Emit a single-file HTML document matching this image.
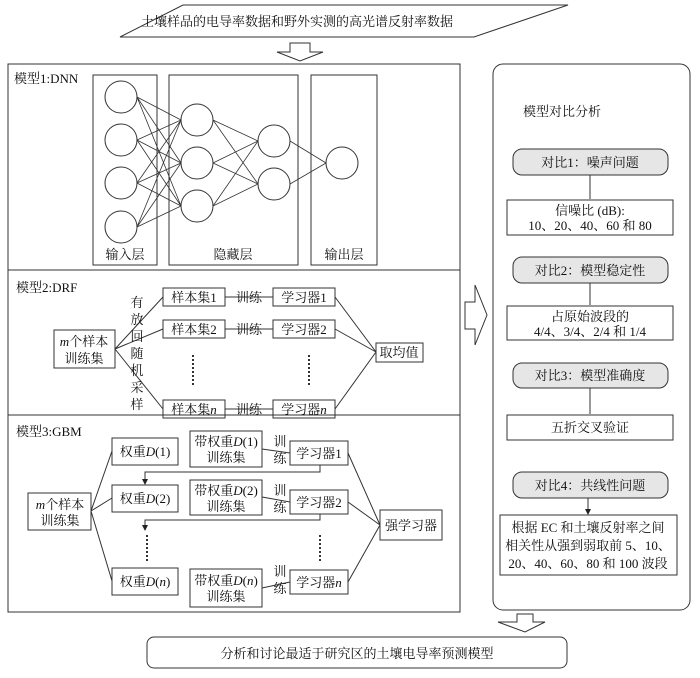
<!DOCTYPE html>
<html><head><meta charset="utf-8"><style>
html,body{margin:0;padding:0;background:#fff}
svg text{font-family:"Liberation Serif","Noto Serif CJK SC",serif;font-size:13px;fill:#111}
</style></head><body>
<svg width="700" height="673" viewBox="0 0 700 673" xmlns="http://www.w3.org/2000/svg">
<defs><marker id="ah" markerWidth="6" markerHeight="6" refX="5" refY="3" orient="auto"><path d="M0,0 L6,3 L0,6 z" fill="#222"/></marker></defs>
<g fill="none" stroke="#333" stroke-width="1">
<!-- top parallelogram -->
<polygon points="183,5 568,5 474,37 120,37" fill="#fff"/>
<!-- down arrow top -->
<polygon points="290,43 310,43 310,52 323,52 300,61 277,52 290,52"/>
<!-- main left box -->
<rect x="8" y="64" width="452" height="548"/>
<line x1="8" y1="270" x2="460" y2="270"/>
<line x1="8" y1="415" x2="460" y2="415"/>
<!-- right arrow -->
<polygon points="465,302 475,302 475,285 487,315 475,345 475,329 465,329"/>
<!-- right rounded box -->
<rect x="493" y="64" width="197" height="546" rx="10"/>
<!-- bottom arrow -->
<polygon points="517,614 533,614 533,622 545,622 525,632 498,622 517,622"/>
<rect x="147" y="637" width="420" height="31" rx="7"/>

<!-- DNN -->
<rect x="93" y="75" width="64" height="190"/>
<rect x="169" y="75" width="129" height="190"/>
<rect x="311" y="75" width="66" height="190"/>
<g stroke-width="0.8">
<path d="M137,97 L181,120 M137,97 L181,163 M137,97 L181,206 M137,140 L181,120 M137,140 L181,163 M137,140 L181,206 M137,183 L181,120 M137,183 L181,163 M137,183 L181,206 M137,227 L181,120 M137,227 L181,163 M137,227 L181,206"/>
<path d="M213,120 L258,141 M213,120 L258,184 M213,163 L258,141 M213,163 L258,184 M213,206 L258,141 M213,206 L258,184"/>
<path d="M290,141 L326,163 M290,184 L326,163"/>
</g>
<g fill="#fff">
<circle cx="121" cy="97" r="16"/><circle cx="121" cy="140" r="16"/><circle cx="121" cy="183" r="16"/><circle cx="121" cy="227" r="16"/>
<circle cx="197" cy="120" r="16"/><circle cx="197" cy="163" r="16"/><circle cx="197" cy="206" r="16"/>
<circle cx="274" cy="141" r="16"/><circle cx="274" cy="184" r="16"/>
<circle cx="342" cy="163" r="16"/>
</g>

<!-- DRF -->
<rect x="54" y="330" width="61" height="38"/>
<rect x="163" y="288" width="62" height="18"/>
<rect x="163" y="320" width="62" height="18"/>
<rect x="163" y="400" width="62" height="18"/>
<rect x="273" y="288" width="62" height="18"/>
<rect x="273" y="320" width="62" height="18"/>
<rect x="273" y="400" width="62" height="18"/>
<rect x="376" y="343" width="47" height="19"/>
<path d="M115,349 L163,297 M115,349 L163,329 M115,349 L163,409"/>
<path d="M225,297 L273,297 M225,329 L273,329 M225,409 L273,409"/>
<path d="M335,297 L376,352 M335,329 L376,352 M335,409 L376,352"/>
<path d="M193,355 L193,385 M309,355 L309,385" stroke-dasharray="2,2" stroke-width="2"/>

<!-- GBM -->
<rect x="28" y="493" width="63" height="37"/>
<rect x="112" y="438" width="66" height="27"/>
<rect x="112" y="485" width="66" height="27"/>
<rect x="112" y="568" width="66" height="27"/>
<rect x="190" y="431" width="72" height="36"/>
<rect x="190" y="480" width="72" height="35"/>
<rect x="190" y="569" width="72" height="38"/>
<rect x="290" y="441" width="58" height="24"/>
<rect x="290" y="490" width="58" height="24"/>
<rect x="290" y="570" width="58" height="24"/>
<rect x="380" y="510" width="62" height="30"/>
<path d="M91,511 L112,451 M91,511 L112,498 M91,511 L112,581"/>
<path d="M262,449 L290,453 M262,497 L290,502 M262,588 L290,582" />
<path d="M348,453 L380,525 M348,502 L380,525 M348,582 L380,525"/>
<path d="M320,465 L320,472 L145,472 L145,484" marker-end="url(#ah)"/>
<path d="M320,514 L320,520 L145,520 L145,530" marker-end="url(#ah)"/>
<path d="M147,535 L147,562 M320,535 L320,562" stroke-dasharray="2,2" stroke-width="2"/>

<!-- right panel -->
<rect x="513" y="149" width="155" height="26" rx="9" fill="#e6e6e6"/>
<rect x="507" y="200" width="166" height="35"/>
<rect x="513" y="257" width="155" height="26" rx="9" fill="#e6e6e6"/>
<rect x="507" y="306" width="166" height="34"/>
<rect x="513" y="363" width="155" height="25" rx="9" fill="#e6e6e6"/>
<rect x="507" y="415" width="166" height="25"/>
<rect x="513" y="472" width="155" height="26" rx="9" fill="#e6e6e6"/>
<rect x="500" y="515" width="177" height="60"/>
<path d="M590,175 L590,199 M590,283 L590,305 M590,388 L590,414 M588,498 L588,514" marker-end="url(#ah)"/>
</g>

<text x="297" y="26" text-anchor="middle" font-size="14">土壤样品的电导率数据和野外实测的高光谱反射率数据</text>
<text x="14" y="83">模型1:DNN</text>
<text x="125" y="259" text-anchor="middle">输入层</text>
<text x="233" y="259" text-anchor="middle">隐藏层</text>
<text x="344" y="259" text-anchor="middle">输出层</text>

<text x="16" y="292">模型2:DRF</text>
<text x="84" y="346" text-anchor="middle"><tspan font-style="italic">m</tspan>个样本</text>
<text x="84" y="363" text-anchor="middle">训练集</text>
<g text-anchor="middle">
<text x="137" y="307">有</text><text x="137" y="324">放</text><text x="137" y="341">回</text><text x="137" y="358">随</text><text x="137" y="375">机</text><text x="137" y="392">采</text><text x="137" y="409">样</text>
</g>
<text x="194" y="302" text-anchor="middle">样本集1</text>
<text x="194" y="334" text-anchor="middle">样本集2</text>
<text x="194" y="414" text-anchor="middle">样本集<tspan font-style="italic">n</tspan></text>
<text x="304" y="302" text-anchor="middle">学习器1</text>
<text x="304" y="334" text-anchor="middle">学习器2</text>
<text x="304" y="414" text-anchor="middle">学习器<tspan font-style="italic">n</tspan></text>
<g text-anchor="middle" fill="#111">
<text x="249" y="302" style="paint-order:stroke" stroke="#fff" stroke-width="0">训练</text>
<text x="249" y="334">训练</text>
<text x="249" y="414">训练</text>
</g>
<text x="399" y="357" text-anchor="middle">取均值</text>

<text x="16" y="436">模型3:GBM</text>
<text x="60" y="509" text-anchor="middle"><tspan font-style="italic">m</tspan>个样本</text>
<text x="60" y="525" text-anchor="middle">训练集</text>
<text x="145" y="456" text-anchor="middle">权重<tspan font-style="italic">D</tspan>(1)</text>
<text x="145" y="503" text-anchor="middle">权重<tspan font-style="italic">D</tspan>(2)</text>
<text x="145" y="586" text-anchor="middle">权重<tspan font-style="italic">D</tspan>(<tspan font-style="italic">n</tspan>)</text>
<text x="226" y="446" text-anchor="middle">带权重<tspan font-style="italic">D</tspan>(1)</text>
<text x="226" y="462" text-anchor="middle">训练集</text>
<text x="226" y="495" text-anchor="middle">带权重<tspan font-style="italic">D</tspan>(2)</text>
<text x="226" y="511" text-anchor="middle">训练集</text>
<text x="226" y="585" text-anchor="middle">带权重<tspan font-style="italic">D</tspan>(<tspan font-style="italic">n</tspan>)</text>
<text x="226" y="601" text-anchor="middle">训练集</text>
<g text-anchor="middle">
<text x="280" y="446">训</text><text x="280" y="463">练</text>
<text x="280" y="495">训</text><text x="280" y="512">练</text>
<text x="280" y="576">训</text><text x="280" y="593">练</text>
</g>
<text x="319" y="458" text-anchor="middle">学习器1</text>
<text x="319" y="507" text-anchor="middle">学习器2</text>
<text x="319" y="587" text-anchor="middle">学习器<tspan font-style="italic">n</tspan></text>
<text x="411" y="530" text-anchor="middle">强学习器</text>

<text x="523" y="116">模型对比分析</text>
<text x="590" y="167" text-anchor="middle">对比1：噪声问题</text>
<text x="590" y="215" text-anchor="middle">信噪比 (dB):</text>
<text x="590" y="230" text-anchor="middle">10、20、40、60 和 80</text>
<text x="590" y="275" text-anchor="middle">对比2：模型稳定性</text>
<text x="590" y="321" text-anchor="middle">占原始波段的</text>
<text x="590" y="336" text-anchor="middle">4/4、3/4、2/4 和 1/4</text>
<text x="590" y="380" text-anchor="middle">对比3：模型准确度</text>
<text x="590" y="432" text-anchor="middle">五折交叉验证</text>
<text x="590" y="490" text-anchor="middle">对比4：共线性问题</text>
<text x="588" y="532" text-anchor="middle">根据 EC 和土壤反射率之间</text>
<text x="588" y="550" text-anchor="middle">相关性从强到弱取前 5、10、</text>
<text x="588" y="568" text-anchor="middle">20、40、60、80 和 100 波段</text>

<text x="357" y="658" text-anchor="middle" font-size="14">分析和讨论最适于研究区的土壤电导率预测模型</text>
</svg>
</body></html>
